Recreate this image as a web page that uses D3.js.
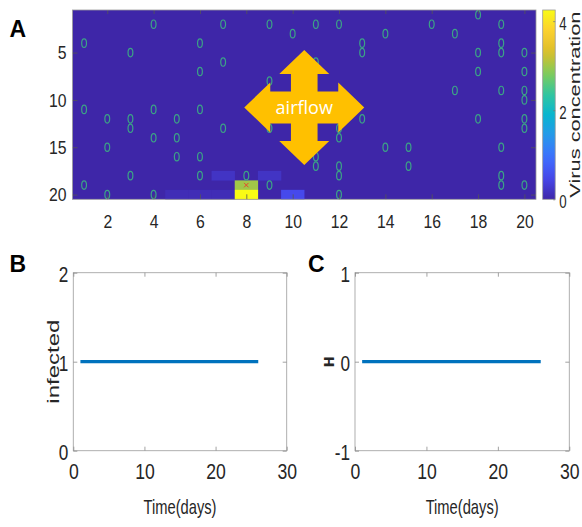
<!DOCTYPE html>
<html>
<head>
<meta charset="utf-8">
<script src="https://cdn.jsdelivr.net/npm/d3@7"></script>
<style>
  html, body { margin: 0; padding: 0; background: #fff; }
  svg { display: block; }
  text { font-family: "Liberation Sans", Arial, Helvetica, sans-serif; fill: #262626; }
</style>
</head>
<body>
<svg id="chart" width="582" height="527"></svg>
<script>
// ---------------- DATA ----------------
const gridCols = [1, 20];            // column index range of the room grid
const gridRows = [1, 20];            // row index range
const heatXTicks = [2, 4, 6, 8, 10, 12, 14, 16, 18, 20];
const heatYTicks = [5, 10, 15, 20];
const colorMax = 4.25;
const colorTicks = [0, 2, 4];

// non-zero virus concentration cells
const hotCol   = [8,    8,   10,  7,   9,   5,   6,   7];
const hotRow   = [20,   19,  20,  18,  18,  20,  20,  20];
const hotValue = [4.25, 3.0, 0.5, 0.2, 0.2, 0.1, 0.1, 0.1];

// people ("o" markers)
const personCol = [1,1,1, 2,2,2, 3,3,3,3, 4,4,4,4, 5,5,5, 6,6,6,6,6, 7,7,7, 8, 9,9,9,9, 10,
                   11,11,11,11, 12,12,12,12,12,12, 13,13,13, 14,14, 15,15, 16, 17,17,
                   18,18,18,18, 19,19,19,19,19,19,19, 20,20,20,20,20,20,20];
const personRow = [4,11,19, 12,15,20, 5,12,13,18, 2,11,14,20, 12,14,16, 4,7,11,16,18, 2,6,13, 18, 2,8,13,19, 3,
                   2,6,16,17, 2,13,14,17,18,20, 4,5,12, 3,15, 15,17, 2, 3,9,
                   1,5,7,12, 2,4,5,9,15,18,19, 5,7,9,10,12,13,19];
// infected person ("x" marker)
const infectedCol = [8];
const infectedRow = [19];

// time series
const days = [1,2,3,4,5,6,7,8,9,10,11,12,13,14,15,16,17,18,19,20,21,22,23,24,25,26];
const infected = [1,1,1,1,1,1,1,1,1,1,1,1,1,1,1,1,1,1,1,1,1,1,1,1,1,1];
const hValues  = [0,0,0,0,0,0,0,0,0,0,0,0,0,0,0,0,0,0,0,0,0,0,0,0,0,0];
const timeTicks = [0, 10, 20, 30];
const infTicks = [0, 1, 2];
const hTicks = [-1, 0, 1];

// ---------------- HELPERS ----------------
const svg = d3.select("#chart");
const parulaStops = [
  [0.2422,0.1504,0.6603],[0.2803,0.2782,0.9221],[0.2440,0.4358,0.9988],
  [0.1540,0.5902,0.9218],[0.0297,0.7082,0.8163],[0.1938,0.7758,0.6251],
  [0.5044,0.7993,0.3480],[0.8634,0.7406,0.1596],[0.9892,0.8136,0.1885],
  [0.9769,0.9839,0.0805]
].map(c => d3.rgb(c[0]*255, c[1]*255, c[2]*255).formatHex());
const parula = d3.piecewise(d3.interpolateRgb, parulaStops);
const color = d3.scaleSequential(parula).domain([0, colorMax]).clamp(true);
const plainFmt = d => String(d);   // hyphen minus like the original

// horizontally condensed text (the original figure is squeezed sideways)
function condense(sel, f) {
  sel.each(function () {
    const t = d3.select(this);
    const x = +t.attr("x") || 0;
    t.attr("x", x / f).attr("transform", `scale(${f},1)`);
  });
}
function styleAxis(g, fontSize, f, tickColor) {
  g.select(".domain").remove();
  g.selectAll(".tick line").attr("stroke", tickColor).attr("stroke-width", 0.8);
  g.selectAll(".tick text").attr("font-size", fontSize).attr("fill", "#262626")
    .style("font-family", '"Liberation Sans", Arial, sans-serif');
  condense(g.selectAll(".tick text"), f);
}

// ---------------- PANEL A: HEATMAP ----------------
const xs = d3.scaleLinear().domain([gridCols[0] - 0.5, gridCols[1] + 0.5]).range([72.5, 536]);
const ys = d3.scaleLinear().domain([gridRows[0] - 0.5, gridRows[1] + 0.5]).range([10, 199.3]);

const cells = [];
for (let r = gridRows[0]; r <= gridRows[1]; r++)
  for (let c = gridCols[0]; c <= gridCols[1]; c++) cells.push({ c, r, v: 0 });
hotCol.forEach((c, i) => {
  const cell = cells.find(d => d.c === c && d.r === hotRow[i]);
  cell.v = hotValue[i];
});

const gA = svg.append("g");
// base layer in the zero-concentration colour (avoids seams between cells)
gA.append("rect")
  .attr("x", xs.range()[0]).attr("y", ys.range()[0])
  .attr("width", xs.range()[1] - xs.range()[0]).attr("height", ys.range()[1] - ys.range()[0])
  .attr("fill", color(0));
gA.selectAll("rect.cell").data(cells.filter(d => d.v > 0)).join("rect")
  .attr("class", "cell")
  .attr("x", d => xs(d.c - 0.5))
  .attr("y", d => ys(d.r - 0.5))
  .attr("width", xs(1.5) - xs(0.5) + 0.2)
  .attr("height", ys(1.5) - ys(0.5) + 0.2)
  .attr("fill", d => color(d.v));

// persons
const persons = personCol.map((c, i) => ({ c, r: personRow[i] }));
gA.selectAll("ellipse.person").data(persons).join("ellipse")
  .attr("class", "person")
  .attr("cx", d => xs(d.c)).attr("cy", d => ys(d.r))
  .attr("rx", 2.4).attr("ry", 4.2)
  .attr("fill", "none").attr("stroke", "#3ca386").attr("stroke-width", 1.2);

// infected x marker
infectedCol.forEach((c, i) => {
  const cx = xs(c), cy = ys(infectedRow[i]);
  gA.append("path")
    .attr("d", `M${cx-2.2},${cy-2.2}L${cx+2.2},${cy+2.2}M${cx-2.2},${cy+2.2}L${cx+2.2},${cy-2.2}`)
    .attr("stroke", "#e8452c").attr("stroke-width", 1);
});

// axes for heatmap
const axA_b = gA.append("g").attr("transform", `translate(0,${ys.range()[1]})`)
  .call(d3.axisBottom(xs).tickValues(heatXTicks).tickSize(-5).tickPadding(15).tickFormat(plainFmt));
styleAxis(axA_b, 19, 0.83, "#555");
const axA_t = gA.append("g").attr("transform", `translate(0,${ys.range()[0]})`)
  .call(d3.axisTop(xs).tickValues(heatXTicks).tickSize(-4).tickFormat(""));
styleAxis(axA_t, 19, 1, "#555");
const axA_l = gA.append("g").attr("transform", `translate(${xs.range()[0]},0)`)
  .call(d3.axisLeft(ys).tickValues(heatYTicks).tickSize(-5).tickPadding(6).tickFormat(plainFmt));
styleAxis(axA_l, 19, 0.83, "#555");
const axA_r = gA.append("g").attr("transform", `translate(${xs.range()[1]},0)`)
  .call(d3.axisRight(ys).tickValues(heatYTicks).tickSize(-5).tickFormat(""));
styleAxis(axA_r, 19, 1, "#555");
gA.append("rect")
  .attr("x", xs.range()[0]).attr("y", ys.range()[0])
  .attr("width", xs.range()[1] - xs.range()[0]).attr("height", ys.range()[1] - ys.range()[0])
  .attr("fill", "none").attr("stroke", "#9a9a9a").attr("stroke-width", 0.8);

// airflow arrow (annotation), centred in the grid
const acx = xs(10.5), acy = ys(10.8);
const vt = 57.5, vh = 24, hw = 25, sw = 13.3, ht = 60, hh = 26, sh = 16;
const arrowPts = [
  [0,-vt],[hw,-vt+vh],[sw,-vt+vh],[sw,-sh],[ht-hh,-sh],[ht-hh,-hw],[ht,0],
  [ht-hh,hw],[ht-hh,sh],[sw,sh],[sw,vt-vh],[hw,vt-vh],[0,vt],
  [-hw,vt-vh],[-sw,vt-vh],[-sw,sh],[-(ht-hh),sh],[-(ht-hh),hw],[-ht,0],
  [-(ht-hh),-hw],[-(ht-hh),-sh],[-sw,-sh],[-sw,-vt+vh],[-hw,-vt+vh]
];
gA.append("polygon")
  .attr("points", arrowPts.map(p => [acx + p[0], acy + p[1]].join(",")).join(" "))
  .attr("fill", "#ffc000");
gA.append("text")
  .attr("x", acx).attr("y", acy + 7)
  .attr("text-anchor", "middle")
  .attr("font-size", 18)
  .style("font-family", '"Open Sans", "Noto Sans", sans-serif')
  .style("fill", "#ffffff")
  .text("airflow");

// colorbar
const cbX = 542.7, cbW = 12.5;
const cs = d3.scaleLinear().domain([0, colorMax]).range([ys.range()[1], ys.range()[0]]);
const defs = svg.append("defs");
const grad = defs.append("linearGradient").attr("id", "cbgrad")
  .attr("x1", 0).attr("y1", 1).attr("x2", 0).attr("y2", 0);
d3.range(0, 1.0001, 0.05).forEach(t => {
  grad.append("stop").attr("offset", t).attr("stop-color", color(t * colorMax));
});
svg.append("rect").attr("x", cbX).attr("y", cs(colorMax))
  .attr("width", cbW).attr("height", cs(0) - cs(colorMax))
  .attr("fill", "url(#cbgrad)").attr("stroke", "#9a9a9a").attr("stroke-width", 0.8);
const axCB = svg.append("g").attr("transform", `translate(${cbX + cbW},0)`)
  .call(d3.axisRight(cs).tickValues(colorTicks).tickSize(-2).tickPadding(4).tickFormat(plainFmt));
styleAxis(axCB, 19, 0.7, "#777");
axCB.selectAll(".tick text").attr("dy", "0.45em");
svg.append("text")
  .attr("transform", `translate(580,${(cs(0) + cs(colorMax)) / 2}) scale(0.75,1) rotate(-90)`)
  .attr("text-anchor", "middle").attr("font-size", 19)
  .attr("textLength", 186).attr("lengthAdjust", "spacingAndGlyphs")
  .text("Virus concentration");

// panel letters
function letter(x, y, t) {
  svg.append("text").attr("x", x).attr("y", y).attr("font-size", 23)
    .attr("font-weight", "bold").style("fill", "#000").text(t);
}
letter(9.5, 37, "A");
letter(9.5, 272, "B");
letter(308, 272, "C");

// ---------------- PANELS B & C ----------------
function linePanel(x0, x1, yDomain, yTicks, values, yLabel, labelFont, labelX, labelLen) {
  const y0 = 272.7, y1 = 450.7;
  const x = d3.scaleLinear().domain([0, 30]).range([x0, x1]);
  const y = d3.scaleLinear().domain(yDomain).range([y1, y0]);
  const g = svg.append("g");
  g.append("rect").attr("x", x0).attr("y", y0).attr("width", x1 - x0).attr("height", y1 - y0)
    .attr("fill", "#fff").attr("stroke", "#a6a6a6").attr("stroke-width", 0.9);
  const ab = g.append("g").attr("transform", `translate(0,${y1})`)
    .call(d3.axisBottom(x).tickValues(timeTicks).tickSize(-4).tickPadding(13).tickFormat(plainFmt));
  styleAxis(ab, 22, 0.8, "#8c8c8c");
  const at = g.append("g").attr("transform", `translate(0,${y0})`)
    .call(d3.axisTop(x).tickValues(timeTicks).tickSize(-4).tickFormat(""));
  styleAxis(at, 22, 1, "#8c8c8c");
  const al = g.append("g").attr("transform", `translate(${x0},0)`)
    .call(d3.axisLeft(y).tickValues(yTicks).tickSize(-4).tickPadding(5).tickFormat(plainFmt));
  styleAxis(al, 22, 0.78, "#8c8c8c");
  al.selectAll(".tick text").attr("dy", "0.42em");
  const ar = g.append("g").attr("transform", `translate(${x1},0)`)
    .call(d3.axisRight(y).tickValues(yTicks).tickSize(-4).tickFormat(""));
  styleAxis(ar, 22, 1, "#8c8c8c");

  g.append("path").datum(days)
    .attr("d", d3.line().x(d => x(d)).y((d, i) => y(values[i])))
    .attr("fill", "none").attr("stroke", "#0072bd").attr("stroke-width", 3.2);

  g.append("text").attr("x", x(15)).attr("y", 514).attr("text-anchor", "middle")
    .attr("font-size", 21).attr("textLength", 73).attr("lengthAdjust", "spacingAndGlyphs")
    .text("Time(days)");

  const yl = g.append("text")
    .attr("transform", `translate(${labelX},${y(yDomain[0] + (yDomain[1] - yDomain[0]) / 2)}) scale(0.75,1) rotate(-90)`)
    .attr("text-anchor", "middle").attr("font-size", labelFont.size)
    .attr("font-weight", labelFont.weight || "normal")
    .style("font-family", labelFont.family)
    .text(yLabel);
  if (labelLen) yl.attr("textLength", labelLen).attr("lengthAdjust", "spacingAndGlyphs");
}
linePanel(73.3, 286.7, [0, 2], infTicks, infected, "infected",
  { size: 22, family: '"Liberation Sans", Arial, sans-serif' }, 58.5, 84);
linePanel(355, 569.3, [-1, 1], hTicks, hValues, "H",
  { size: 19, weight: "bold", family: '"Liberation Mono", "DejaVu Sans Mono", monospace' }, 334, null);
</script>
</body>
</html>
